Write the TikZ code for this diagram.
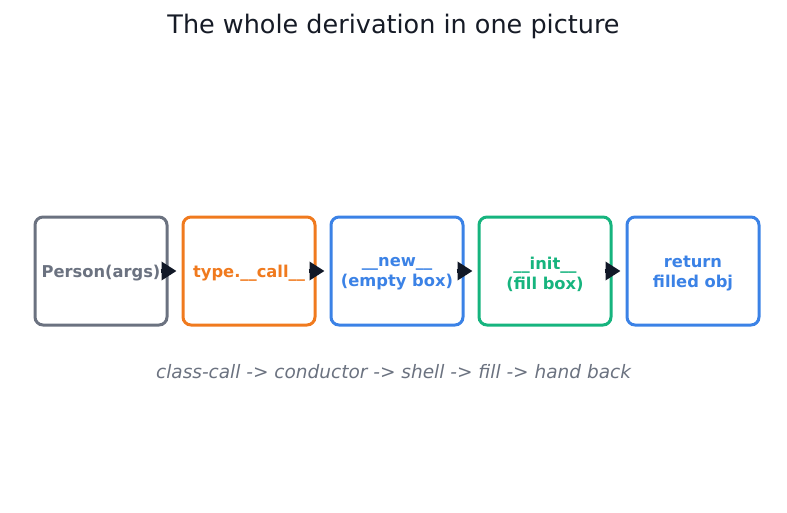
\documentclass[tikz,border=0pt]{standalone}
\usepackage{fontspec}
\setmainfont{DejaVu Sans}
\usetikzlibrary{arrows.meta}
\definecolor{cgray}{HTML}{6B7280}
\definecolor{corange}{HTML}{F07A1E}
\definecolor{cblue}{HTML}{3B82E6}
\definecolor{cgreen}{HTML}{16B47E}
\definecolor{cdark}{HTML}{111827}
\definecolor{ctitle}{HTML}{161B26}
\tikzset{
  stagebox/.style={draw=#1, line width=3pt, rounded corners=8pt, fill=white,
    minimum width=132pt, minimum height=108pt, inner sep=0pt},
  stagetext/.style={text=#1, align=center, inner sep=0pt,
    font=\fontsize{16.3pt}{20pt}\selectfont\bfseries},
  flowarrow/.style={draw=cdark, line width=3.5pt,
    -{Triangle[length=15pt,width=18pt]}}
}
\begin{document}
\begin{tikzpicture}[x=1pt,y=-1pt]
\useasboundingbox (0,0) rectangle (787,512);
\node[font=\fontsize{25.5pt}{30pt}\selectfont, text=ctitle] (title) at (393.5,26) {The whole derivation in one picture};
\node[stagebox=cgray]   (b1) at (101,271) {};
\node[stagebox=corange] (b2) at (249,271) {};
\node[stagebox=cblue]   (b3) at (397,271) {};
\node[stagebox=cgreen]  (b4) at (545,271) {};
\node[stagebox=cblue]   (b5) at (693,271) {};
\node[stagetext=cgray]   (t1) at ([yshift=-2pt]b1.center) {Person(args)};
\node[stagetext=corange] (t2) at ([yshift=-2pt]b2.center) {type.\_\_call\_\_};
\node[stagetext=cblue]   (t3) at ([yshift=-3pt]b3.center) {\_\_new\_\_\\(empty box)};
\node[stagetext=cgreen]  (t4) at ([yshift=-3pt]b4.center) {\_\_init\_\_\\(fill box)};
\node[stagetext=cblue]   (t5) at ([yshift=-3pt]b5.center) {return\\filled obj};
\foreach \a/\b in {b1/b2,b2/b3,b3/b4,b4/b5}{
  \draw[flowarrow] ([xshift=-8pt]\a.east) -- ([xshift=-5pt]\b.west);
}
\node[font=\fontsize{18.5pt}{22pt}\selectfont\itshape, text=cgray] (cap) at (393.5,372) {class-call -> conductor -> shell -> fill -> hand back};
\end{tikzpicture}
\end{document}
